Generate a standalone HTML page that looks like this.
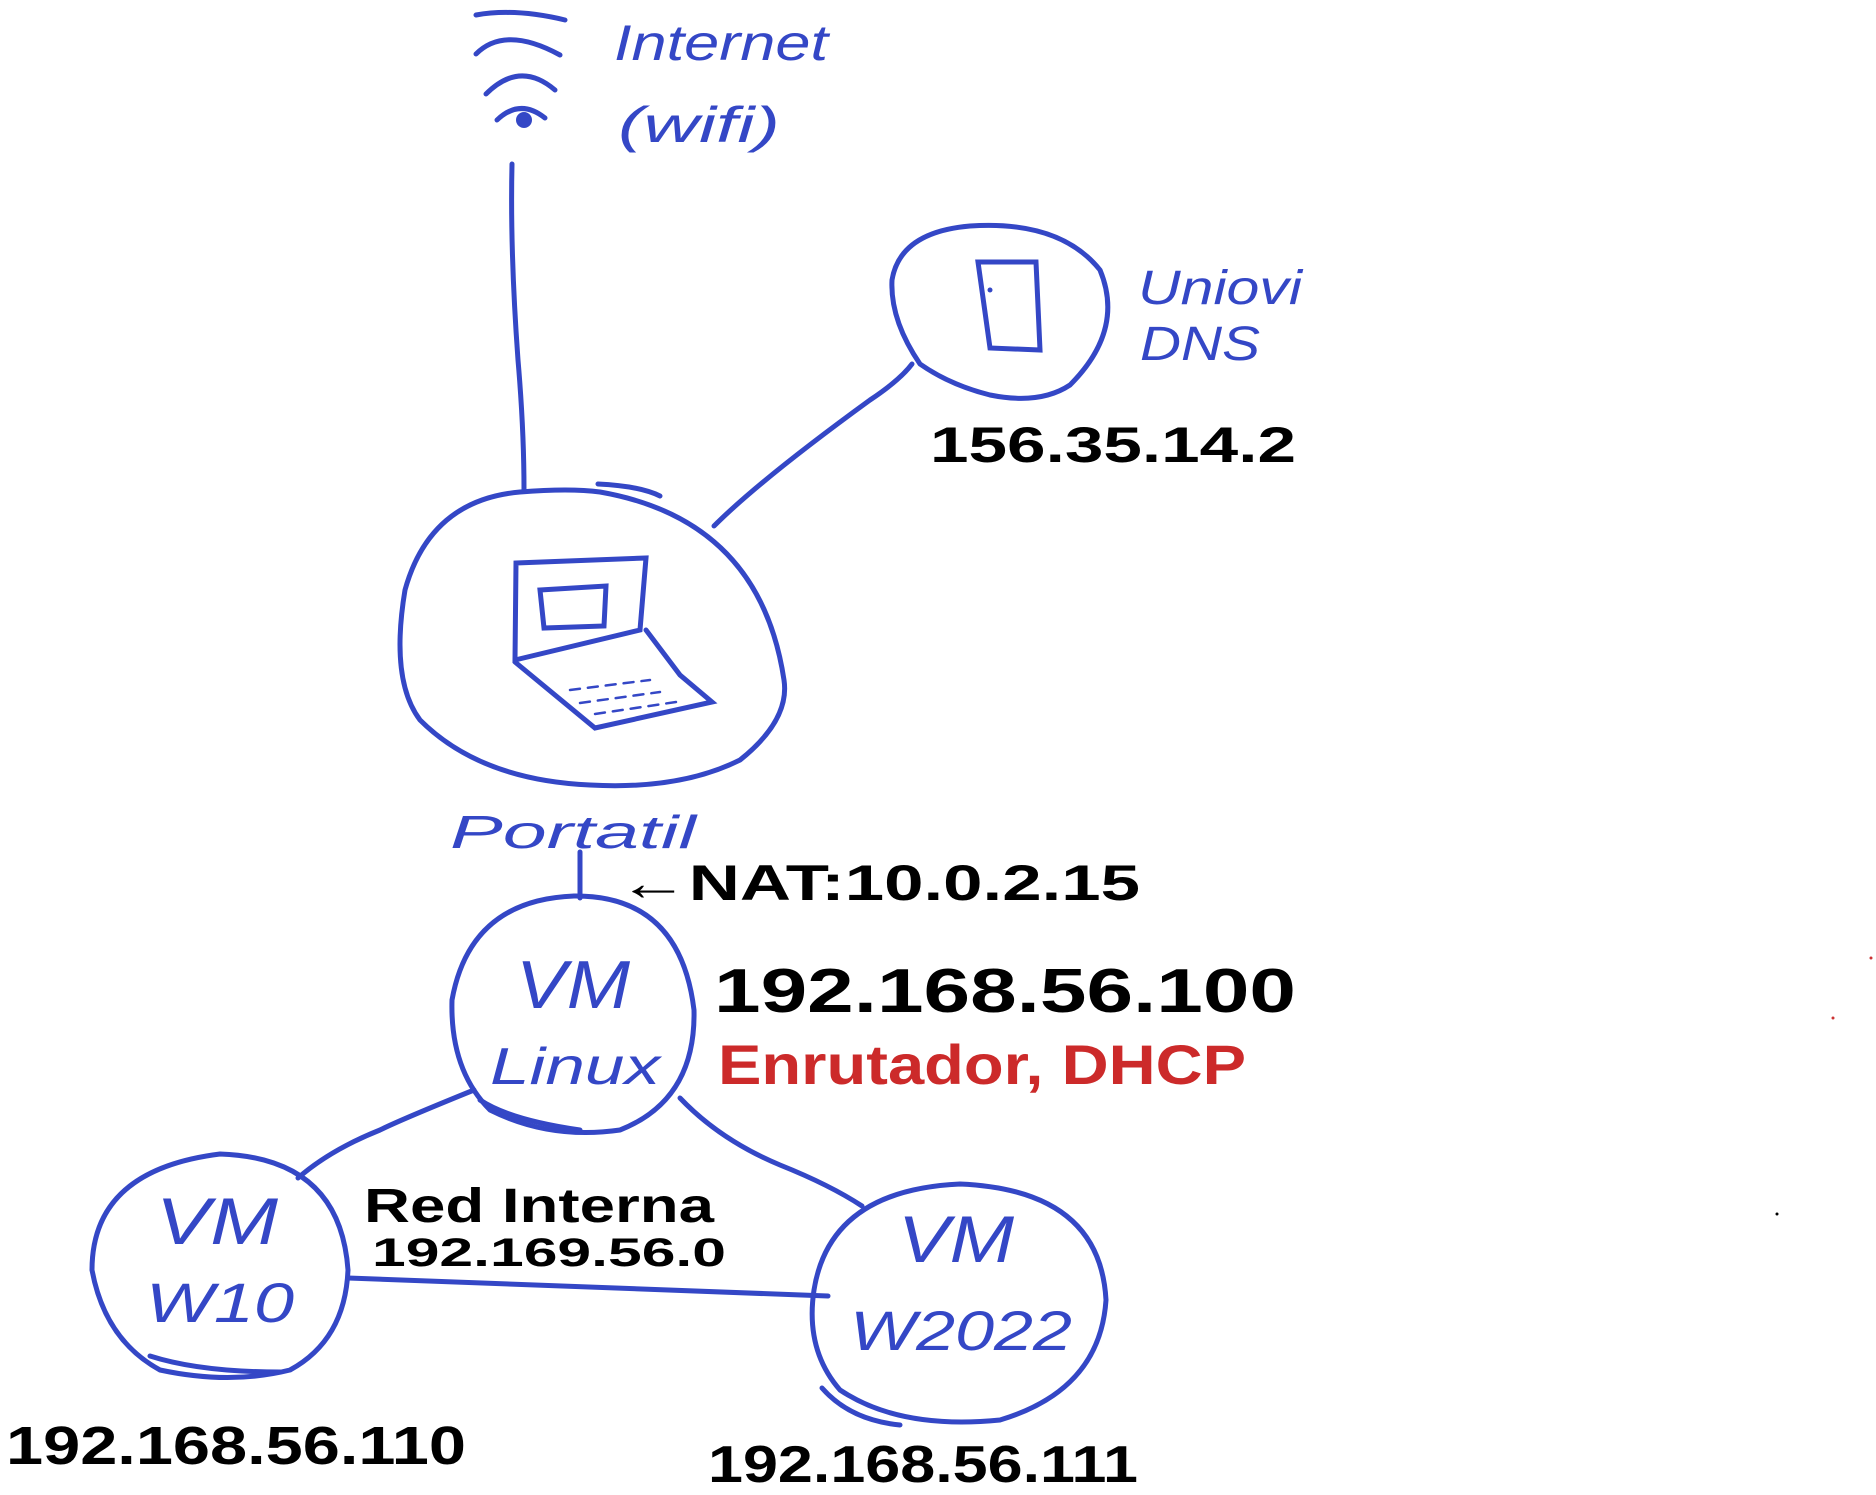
<!DOCTYPE html>
<html><head><meta charset="utf-8"><style>
html,body{margin:0;padding:0;background:#fff;}
svg{display:block;}
text{font-family:"Liberation Sans",sans-serif;}
</style></head><body>
<svg width="1876" height="1495" viewBox="0 0 1876 1495" xmlns="http://www.w3.org/2000/svg">
<g fill="none" stroke="#3447c6" stroke-width="5" stroke-linecap="round">
  <path d="M476 15 Q515 8 565 20"/>
  <path d="M476 54 Q505 25 560 55"/>
  <path d="M486 94 Q520 60 555 90"/>
  <path d="M497 120 Q520 98 545 118"/>
  <path d="M512 164 Q510 250 518 360 Q524 430 524 490"/>
  <path d="M600 492 Q760 520 784 680 Q790 720 740 760 Q680 790 590 785 Q480 780 420 720 Q390 680 405 590 Q430 500 520 492 Q570 488 600 492"/>
  <path d="M598 484 Q640 486 660 496"/>
  <path d="M516 563 L646 558 L640 630 L515 660 Z"/>
  <path d="M540 590 L606 586 L604 626 L544 628 Z"/>
  <path d="M515 662 L595 728 L712 702 L680 675 L646 630"/>
  <path d="M570 690 L650 680 M580 703 L660 692 M595 714 L676 702" stroke-width="2.5" stroke-dasharray="10 8"/>
  <path d="M714 526 Q760 480 870 400 Q900 380 912 364"/>
  <path d="M920 364 Q890 320 892 280 Q900 232 970 226 Q1060 220 1100 270 Q1125 330 1070 385 Q1040 405 990 395 Q950 385 920 364"/>
  <path d="M978 262 L1036 262 L1040 350 L990 348 Z"/>
  <path d="M580 852 L580 898"/>
  <path d="M574 896 Q680 895 694 1010 Q696 1100 620 1130 Q550 1140 490 1110 Q450 1070 452 1000 Q470 900 574 896"/>
  <path d="M480 1100 Q510 1120 580 1130"/>
  <path d="M474 1090 Q400 1120 380 1130 Q330 1150 298 1178"/>
  <path d="M680 1098 Q720 1140 780 1165 Q830 1185 862 1206"/>
  <path d="M348 1278 L828 1296"/>
  <path d="M220 1154 Q340 1158 348 1270 Q345 1340 290 1370 Q230 1385 160 1370 Q105 1340 92 1270 Q92 1170 220 1154"/>
  <path d="M150 1356 Q200 1372 280 1372"/>
  <path d="M960 1184 Q1100 1190 1106 1300 Q1100 1390 1000 1420 Q900 1430 840 1390 Q805 1350 814 1290 Q830 1190 960 1184"/>
  <path d="M822 1388 Q850 1420 900 1425"/>
</g>
<circle cx="524" cy="120" r="8" fill="#3447c6"/>
<circle cx="990" cy="290" r="2.5" fill="#3447c6"/>
<g fill="#3447c6" font-style="italic">
  <text x="614" y="60" font-size="50" textLength="214" lengthAdjust="spacingAndGlyphs">Internet</text>
  <text x="618" y="142" font-size="50" textLength="162" lengthAdjust="spacingAndGlyphs">(wifi)</text>
  <text x="1138" y="304" font-size="48" textLength="164" lengthAdjust="spacingAndGlyphs">Uniovi</text>
  <text x="1140" y="360" font-size="48" textLength="120" lengthAdjust="spacingAndGlyphs">DNS</text>
  <text x="450" y="848" font-size="46" textLength="246" lengthAdjust="spacingAndGlyphs">Portatil</text>
  <text x="516" y="1008" font-size="68" textLength="114" lengthAdjust="spacingAndGlyphs">VM</text>
  <text x="490" y="1084" font-size="52" textLength="170" lengthAdjust="spacingAndGlyphs">Linux</text>
  <text x="156" y="1244" font-size="66" textLength="122" lengthAdjust="spacingAndGlyphs">VM</text>
  <text x="146" y="1322" font-size="56" textLength="148" lengthAdjust="spacingAndGlyphs">W10</text>
  <text x="898" y="1262" font-size="66" textLength="116" lengthAdjust="spacingAndGlyphs">VM</text>
  <text x="850" y="1350" font-size="56" textLength="222" lengthAdjust="spacingAndGlyphs">W2022</text>
</g>
<g fill="#000" font-weight="bold">
  <text x="930" y="462" font-size="50" textLength="366" lengthAdjust="spacingAndGlyphs">156.35.14.2</text>
  <text x="618" y="900" font-size="50" textLength="522" lengthAdjust="spacingAndGlyphs">←NAT:10.0.2.15</text>
  <text x="714" y="1012" font-size="62" textLength="582" lengthAdjust="spacingAndGlyphs">192.168.56.100</text>
  <text x="364" y="1222" font-size="48" textLength="350" lengthAdjust="spacingAndGlyphs">Red Interna</text>
  <text x="372" y="1266" font-size="40" textLength="354" lengthAdjust="spacingAndGlyphs">192.169.56.0</text>
  <text x="6" y="1464" font-size="54" textLength="460" lengthAdjust="spacingAndGlyphs">192.168.56.110</text>
  <text x="708" y="1482" font-size="52" textLength="430" lengthAdjust="spacingAndGlyphs">192.168.56.111</text>
</g>
<text x="718" y="1084" font-size="56" fill="#cc2a2a" font-weight="bold" textLength="528" lengthAdjust="spacingAndGlyphs">Enrutador, DHCP</text>
<circle cx="1871" cy="958" r="1.5" fill="#c33"/>
<circle cx="1833" cy="1018" r="1.5" fill="#c33"/>
<circle cx="1777" cy="1214" r="1.5" fill="#000"/>
</svg>
</body></html>
